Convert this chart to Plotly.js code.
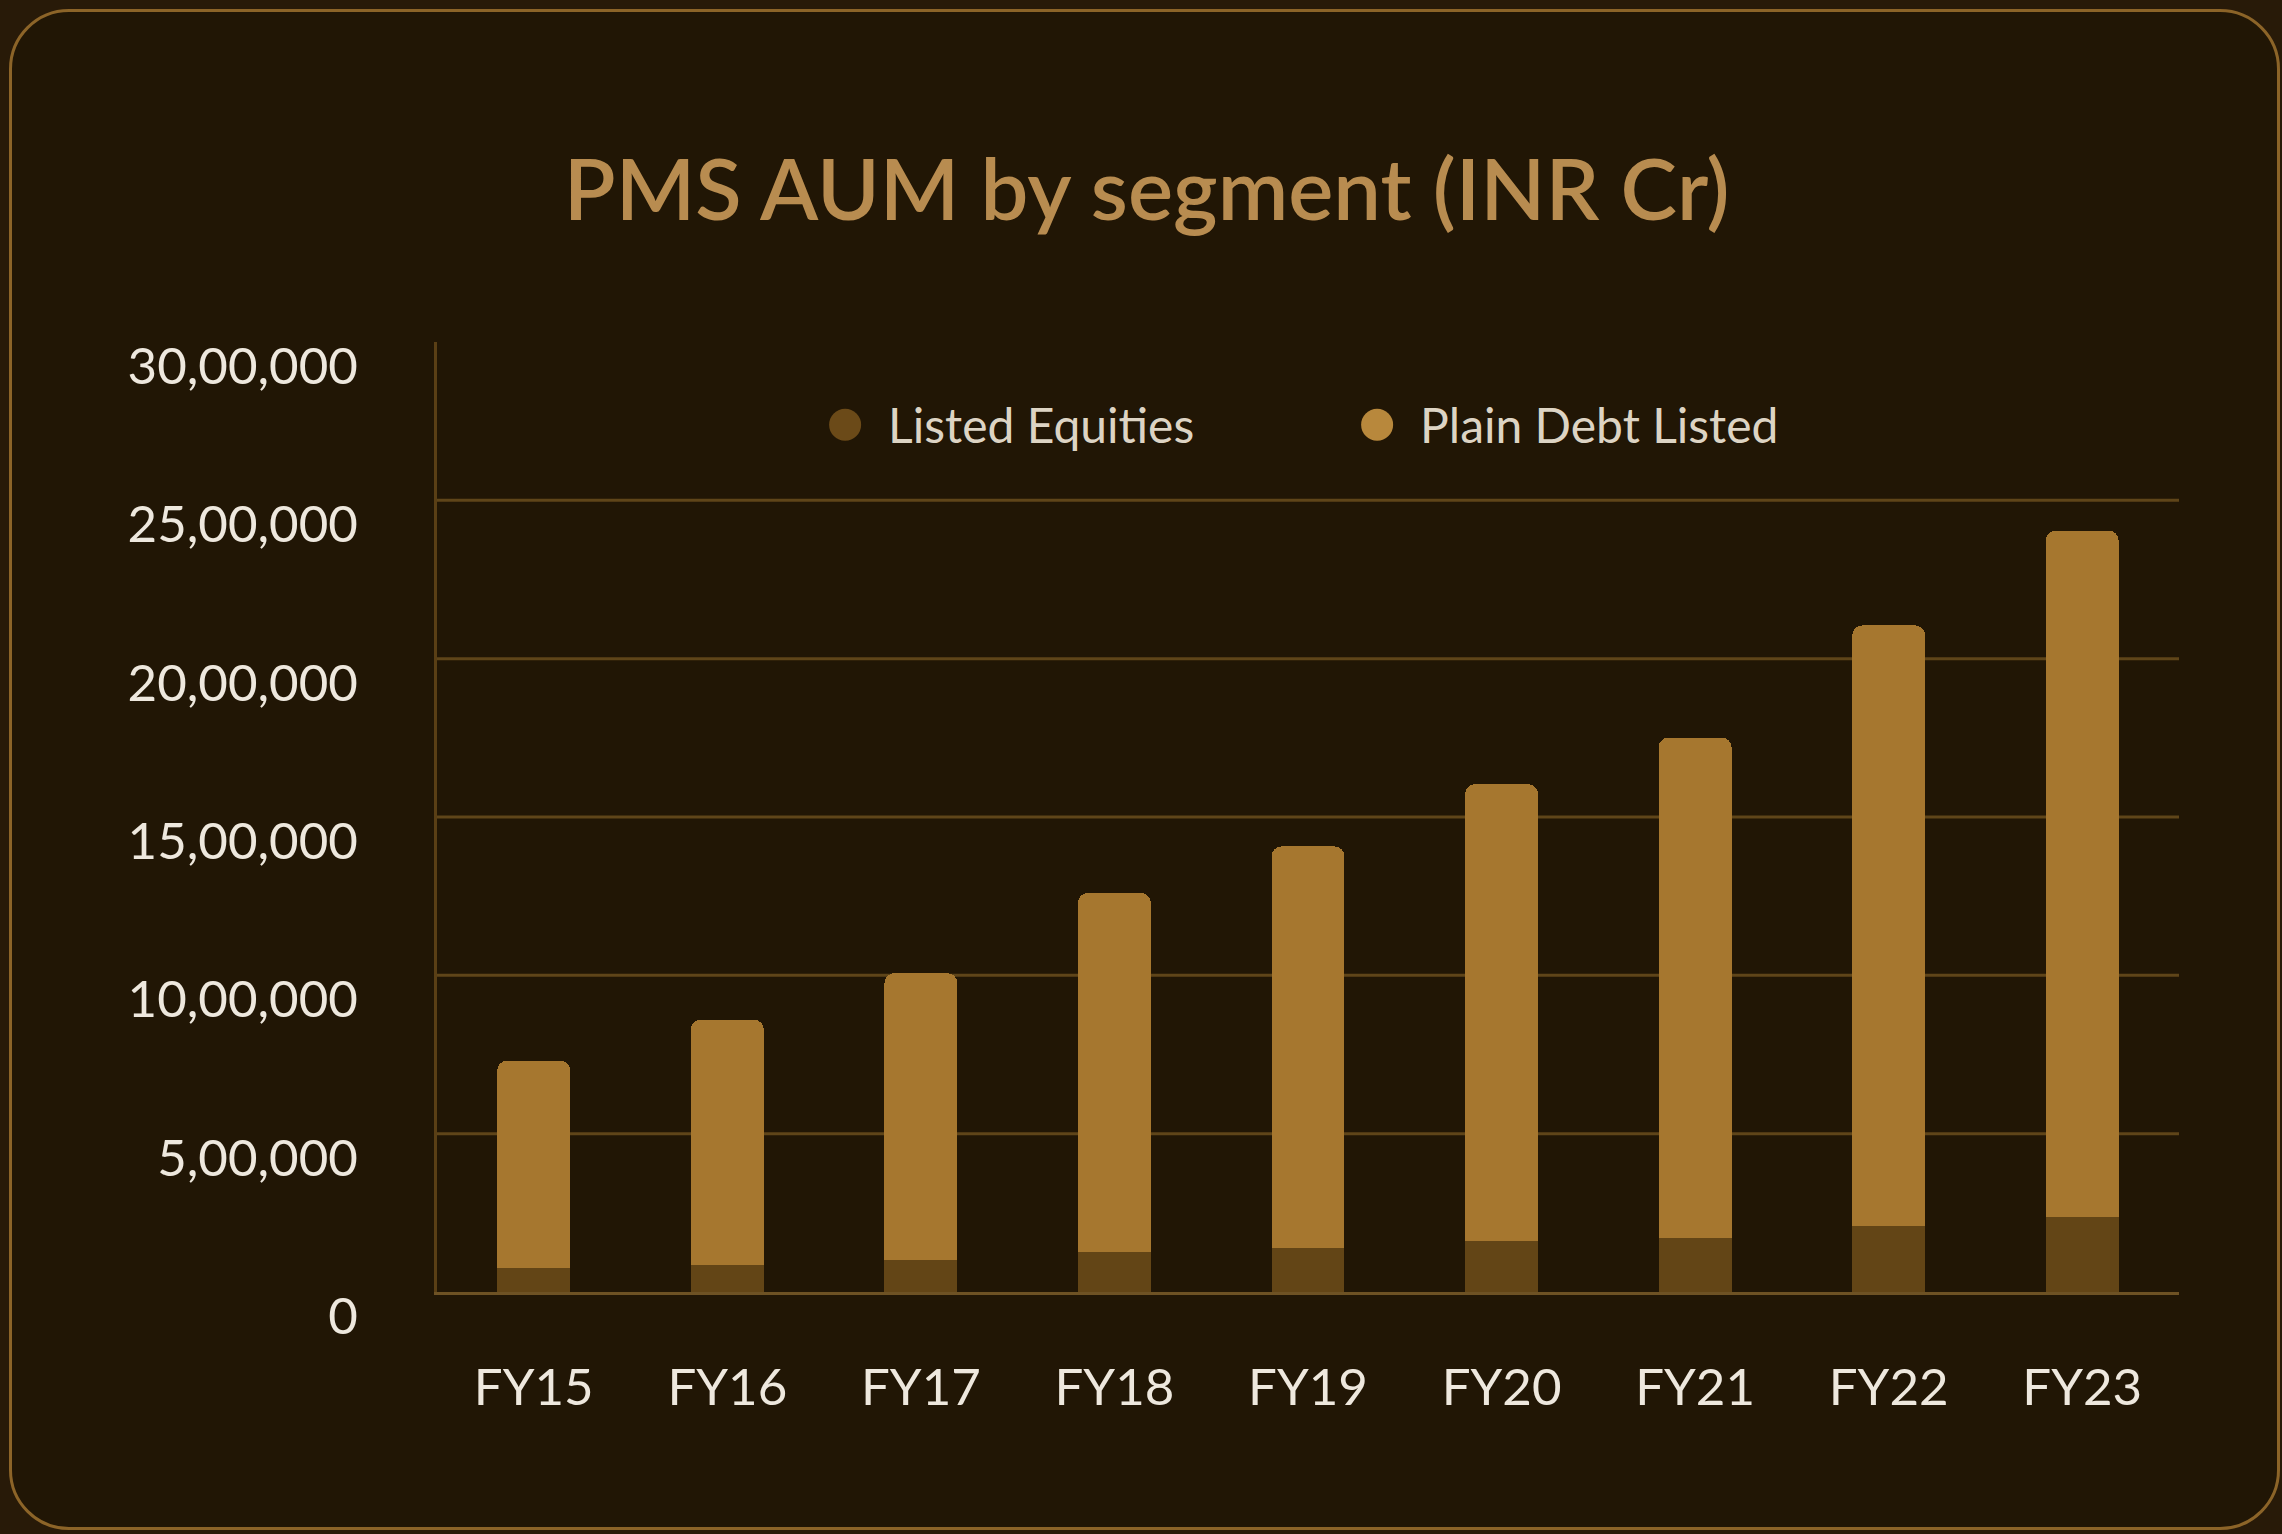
<!DOCTYPE html>
<html>
<head>
<meta charset="utf-8">
<script src="https://cdn.plot.ly/plotly-3.0.1.min.js"></script>
<style>
  html, body { margin: 0; padding: 0; background: #281a08; width: 2282px; height: 1534px; overflow: hidden; }
  #card { position: absolute; left: 9px; top: 9px; width: 2265px; height: 1515px;
          border: 3px solid #8c6428; border-radius: 60px; background: #211605; }
  #chart { position: absolute; left: 0; top: 0; width: 2282px; height: 1534px; }
</style>
</head>
<body>
<div id="card"></div>
<div id="chart"></div>
<script>
// ---- data ----
const categories = ["FY15", "FY16", "FY17", "FY18", "FY19", "FY20", "FY21", "FY22", "FY23"];
const listedEquities = [75000, 86000, 102000, 126000, 139000, 160000, 172000, 208000, 237000];
const plainDebtListed = [656000, 774000, 905000, 1134000, 1268000, 1444000, 1579000, 1897000, 2167000];
const seriesNames = ["Listed Equities", "Plain Debt Listed"];
const yTickVals = [0, 500000, 1000000, 1500000, 2000000, 2500000, 3000000];
const yTickText = ["0", "5,00,000", "10,00,000", "15,00,000", "20,00,000", "25,00,000", "30,00,000"];
const gridVals = [500000, 1000000, 1500000, 2000000, 2500000];
const chartTitle = "PMS AUM by segment (INR Cr)";

const colEq = "#634516";
const colDebt = "#a6772f";
const colEqLegend = "#6b4a18";
const colDebtLegend = "#b8883c";

const traces = [
  { type: "bar", x: categories, y: listedEquities, name: seriesNames[0],
    marker: { color: colEq }, showlegend: false, legendgroup: "eq", hoverinfo: "skip" },
  { type: "bar", x: categories, y: plainDebtListed, name: seriesNames[1],
    marker: { color: colDebt }, showlegend: false, legendgroup: "debt", hoverinfo: "skip" },
  { type: "scatter", mode: "markers", x: [null], y: [null], name: seriesNames[0],
    marker: { color: colEqLegend, size: 16, symbol: "circle" }, legendgroup: "eq" },
  { type: "scatter", mode: "markers", x: [null], y: [null], name: seriesNames[1],
    marker: { color: colDebtLegend, size: 16, symbol: "circle" }, legendgroup: "debt" }
];

const shapes = gridVals.map(v => ({
  type: "line", xref: "paper", yref: "y", x0: 0, x1: 1, y0: v, y1: v,
  line: { color: "#5f4519", width: 3 }, layer: "below"
}));

const layout = {
  width: 2282, height: 1534,
  paper_bgcolor: "rgba(0,0,0,0)", plot_bgcolor: "rgba(0,0,0,0)",
  margin: { l: 437, r: 103, t: 342, b: 242, pad: 0 },
  barmode: "stack", bargap: 0.623, barcornerradius: 10,
  title: { text: chartTitle, x: 0.5025, xref: "container", xanchor: "center",
           y: 0.876, yref: "container", yanchor: "middle",
           font: { family: "Lato, 'Open Sans', sans-serif", size: 85, color: "#b88c50", weight: 600 } },
  font: { family: "Lato, sans-serif", color: "#eee8de" },
  xaxis: { type: "category", showgrid: false, zeroline: false, showline: true,
           linecolor: "#6e5224", linewidth: 3, ticks: "", ticklabelstandoff: 49,
           tickfont: { family: "Lato, sans-serif", size: 51, color: "#eee8de" } },
  yaxis: { range: [0, 3000000], tickmode: "array", tickvals: yTickVals, ticktext: yTickText,
           showgrid: false, zeroline: false, showline: true, linecolor: "#5a3f15", linewidth: 3,
           ticks: "", ticklabelstandoff: 66, ticklabelshift: 24,
           tickfont: { family: "Lato, sans-serif", size: 51, color: "#eee8de" } },
  legend: { orientation: "h", x: 0.2096, xanchor: "left", y: 0.9126, yanchor: "middle",
            bgcolor: "rgba(0,0,0,0)", entrywidth: 441, entrywidthmode: "pixels",
            itemwidth: 76, traceorder: "normal",
            font: { family: "Lato, sans-serif", size: 48, color: "#ddd4c4" } },
  shapes: shapes
};

Plotly.newPlot("chart", traces, layout, { staticPlot: true, displayModeBar: false }).then(() => {
  document.querySelectorAll("#chart .legend .legendpoints path").forEach(p => {
    const t = p.getAttribute("transform") || "";
    p.setAttribute("transform", t + " scale(2)");
  });
});
</script>
</body>
</html>
